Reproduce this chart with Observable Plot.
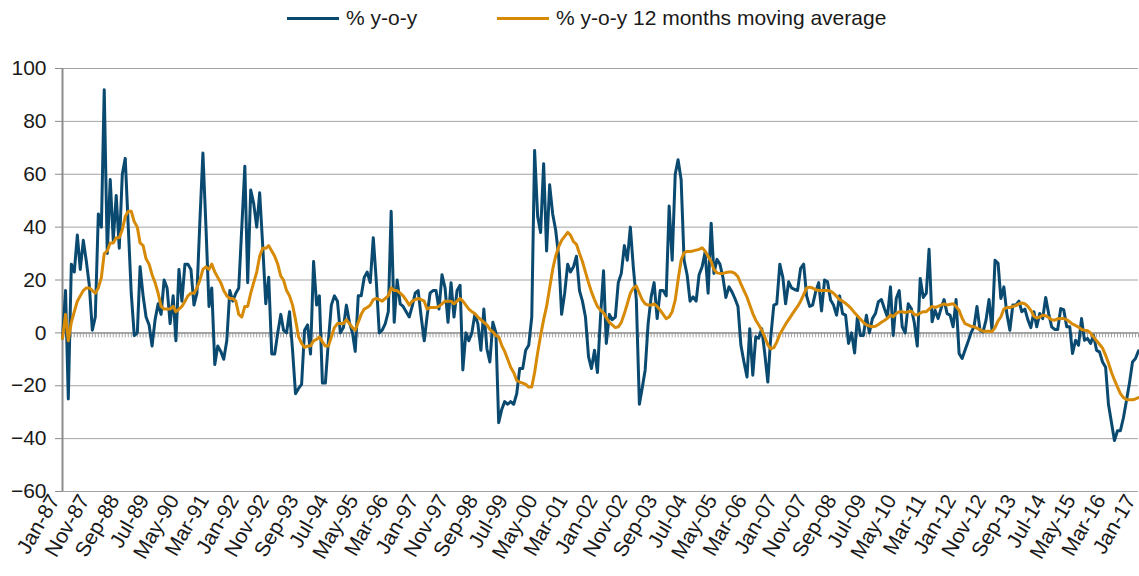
<!DOCTYPE html>
<html><head><meta charset="utf-8">
<script src="https://cdn.jsdelivr.net/npm/d3@7"></script>
<script src="https://cdn.jsdelivr.net/npm/@observablehq/plot@0.6"></script>
<style>
body{margin:0;background:#fff;font-family:"Liberation Sans",Arial,sans-serif;}
#legend{position:relative;width:1139px;height:40px;font-size:21px;color:#1a1a1a}
.sw{position:absolute;top:17px;height:3px;width:52px}
.lt{position:absolute;top:6px;line-height:24px;white-space:nowrap}
</style></head><body>
<div id="legend"></div>
<div id="chart"></div>
<script>
const startMonth = "1987-01";
const seriesNames = ["% y-o-y", "% y-o-y 12 months moving average"];
const seriesColors = ["#0a4a70", "#d68a06"];
const legendLeft = [287, 497];

const yoy = [
-2,16,-25,26,23,37,24,35,27,18,
1,6,45,40,92,30,58,35,52,32,
60,66,40,15,-1,0,25,14,6,3,
-5,5,11,7,20,17,3.5,14,-3,24,
12,26,26,24,10.5,15,43,68,40,10,
17,-12,-5,-7,-10,-3,16,12,15,17,
40,63,19,54,49,40,53,33,11,21,
-8,-8,0,7,1,0,8,-6.6,-23,-21,
-19.5,1,3,-8,27,10.5,14,-19,-19,-3,
10.5,14,12,0,2,10.5,4,0,-7,14,
14,21,23,19,36,20,0,1,3.5,8,
46,4,20,11,10,8,6,10,15,16,
6,-3,6,15,16,16,9,22,17,4,
19,6,16,18,-14,0,-3,0,7,3.5,
-6.6,9,-6,-11,4,0,-34,-29,-26,-27,
-26,-27,-23,-13.5,-13.5,-6.6,-4.7,6,69,44,
38,64,31,56,45,39,29,7,15,26,
23,25,29,16,12,6,-9,-13.5,-6.6,-15,
6,23.5,-4,7,5,6,19,22.5,33,27.5,
40,25,12.4,-27,-21,-14,3.5,13.6,19,5.4,
16,16,14,48,27.5,60,65.5,58,27.5,22,
12,13.6,12,22,25,30.5,15,41.5,22.5,27.8,
26,21,13.4,17.4,15.5,13,10,-4.7,-11,-16.7,
1.6,-16,-1.5,-2,1.6,-7.8,-18.6,-1.5,10.5,11,
26,21,11,19.3,17,16.4,16,24.4,26,14,
10,10.5,15.5,19,8.3,20,19.3,12.4,10.5,6.7,
14,7.3,6.7,-4,0,-7.6,6,-1,-1,6.7,
0,5.4,7.3,11.8,12.6,9.2,6,17.4,-1,13,
16,2.3,0,11,9.2,4,-5,20.6,13.4,15,
31.6,4.2,8.6,5.4,9.2,12.6,7.3,6.7,2.3,12.6,
-7.8,-9.7,-6.6,-3.4,0,2.3,10,1,0.4,4.8,
12.6,1,27.5,26.3,13,17.4,7.3,1,10.5,10.5,
12,8,9,5,2,8,2.3,7.3,5.4,13.4,
7.3,2.3,1.3,1.3,9.2,8.8,2.3,2.3,-7.8,-2.8,
-4.7,5.4,-2.8,-2.1,-4,-0.9,-6.6,-7.2,-11,-13,
-27,-34,-40.7,-37,-37,-32,-25.5,-19,-11,-9.7,
-6.8
];

const yoyMA12 = [
-2,7,-3,4,8,12,14,16,17,17,
16,15,17,21,30,31,34,34,36,36,
39,44,46,46,42,40,34,33,28,26,
22,19,15,10,9,9,9,10,8,9,
10,12,14,15,15,17,20,24,25,24,
26,23,21,19,16,14,13,13,12,7,
6,10,10,15,19,23,29,32,32,33,
31,29,26,21.5,20,16,14,10.5,5,-1.5,
-4,-5.5,-5,-5,-3,-2.5,-1.5,-3.4,-5,-5,
-1.5,2,3.5,3.5,3.5,5,3.5,2,1,4,
7,9,9.6,10.5,12.6,13,12.6,12,13,14,
17,16,16,15,14,12.4,10.5,12,12.6,13,
12.6,12,9,9.6,9.6,9.6,10,11,12,12,
12,11,12,13,12,10.5,9,8,7.3,6,
5,4,3,1.3,0.4,-1,-1.5,-4.7,-7,-10,
-13,-15,-18,-18.6,-19,-19.5,-20.5,-20.5,-15,-7.5,
-1,5,10,17,24,29,32.5,35,36.5,38,
37,34.5,33.5,30,27,23,19,15.5,12.5,10,
8.6,7.6,5.8,4,3,2,2.3,4,7.3,11,
15,17,17.7,15,12.6,11,10.5,10.5,11,10,
8.6,7,5.4,6,8,12.4,20,27.5,30.3,30.8,
30.8,31,31.3,31.6,32.2,31,29,27,24,22.7,
22.5,22.5,22.8,23,23,22.5,21.2,18.5,16,13.5,
10.5,7.3,4.8,3,1,-1.5,-4.5,-6,-5.6,-3.5,
-0.5,1.5,3.3,5,6.7,8.4,10,12,14.5,17,
17.3,17,16.3,16,16,16,16,15.8,15,13.8,
12.6,12,11.2,10.2,9,7.6,6.5,5.2,4,3,
2.6,2.3,2.5,3.2,4,4.7,5.5,6.7,6.1,7.3,
8,8,7.7,8,8.2,7,6.8,7.5,8,8,
9,10,9.6,10,10.5,11,10.5,10.8,11,10,
8.5,5.5,3.5,3,2.5,2.3,1.8,1.2,0.6,0.6,
0.6,0.5,2,4.5,6,9,9.6,9.6,10,10.3,
11,11.3,11,10,8.5,6.3,5.6,6,6.7,6.5,
5.8,5,4.8,5.3,5.4,5.4,5,4.2,3.3,2.8,
2.2,1.3,1,0.8,0,-1.5,-3,-4.3,-5.8,-8.5,
-11.4,-15,-17.8,-20.5,-23,-24.5,-25.2,-25.3,-25.3,-25,
-24.5
];

const tickLabels = ["Jan-87","Nov-87","Sep-88","Jul-89","May-90","Mar-91","Jan-92","Nov-92","Sep-93","Jul-94","May-95","Mar-96","Jan-97","Nov-97","Sep-98","Jul-99","May-00","Mar-01","Jan-02","Nov-02","Sep-03","Jul-04","May-05","Mar-06","Jan-07","Nov-07","Sep-08","Jul-09","May-10","Mar-11","Jan-12","Nov-12","Sep-13","Jul-14","May-15","Mar-16","Jan-17"];
const yTicks = [-60,-40,-20,0,20,40,60,80,100];

// legend
const legend = document.getElementById("legend");
seriesNames.forEach((name, i) => {
  const sw = document.createElement("div");
  sw.className = "sw"; sw.style.left = legendLeft[i] + "px"; sw.style.background = seriesColors[i];
  const t = document.createElement("div");
  t.className = "lt"; t.style.left = (legendLeft[i] + 59) + "px"; t.textContent = name;
  legend.appendChild(sw); legend.appendChild(t);
});

const start = d3.utcParse("%Y-%m")(startMonth);
const months = yoy.map((_, i) => d3.utcMonth.offset(start, i));
const rows = [];
yoy.forEach((v, i) => rows.push({date: months[i], value: v, series: seriesNames[0]}));
yoyMA12.forEach((v, i) => rows.push({date: months[i], value: v, series: seriesNames[1]}));
const parseLabel = d3.utcParse("%b-%y");
const tickDates = tickLabels.map(parseLabel);
const fmt = d3.utcFormat("%b-%y");

const chart = Plot.plot({
  width: 1139, height: 536,
  marginLeft: 62, marginRight: 1, marginTop: 28, marginBottom: 85,
  x: {type: "utc", domain: [months[0], months[months.length - 1]]},
  y: {domain: [-60, 100]},
  color: {domain: seriesNames, range: seriesColors},
  style: {fontFamily: "Liberation Sans, Arial, sans-serif", fontSize: "21px", color: "#1a1a1a", background: "#fff", overflow: "visible"},
  marks: [
    Plot.ruleY(yTicks, {stroke: "#a3a3a3", strokeWidth: 1}),
    Plot.ruleX(months, {x: d => d, y1: 0, y2: -1.9, stroke: "#a3a3a3", strokeWidth: 1}),
    Plot.ruleY([0], {stroke: "#999", strokeWidth: 1.5}),
    Plot.ruleX([months[0]], {stroke: "#8c8c8c", strokeWidth: 2}),
    Plot.axisY({ticks: yTicks, tickSize: 7, tickPadding: 9, stroke: "#8c8c8c", label: null, fontSize: 21}),
    Plot.axisX({ticks: tickDates, tickFormat: fmt, tickRotate: -60, tickSize: 0, tickPadding: 6, dx: -8, dy: -1, label: null, fontSize: 21}),
    Plot.line(rows, {x: "date", y: "value", stroke: "series", z: "series", strokeWidth: 3, strokeLinejoin: "round"})
  ]
});
document.getElementById("chart").appendChild(chart);
</script>
</body></html>
